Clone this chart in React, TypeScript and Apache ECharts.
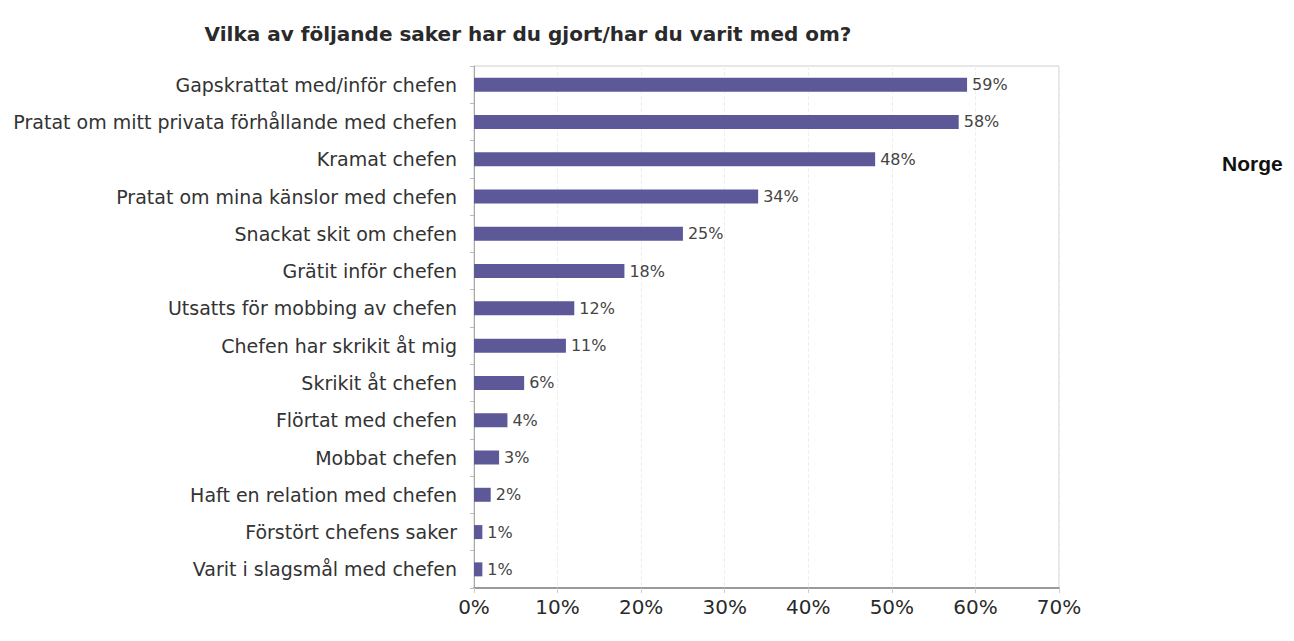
import React, { useEffect, useRef } from "react";
import * as echarts from "echarts";

const categories = [
  "Gapskrattat med/inför chefen",
  "Pratat om mitt privata förhållande med chefen",
  "Kramat chefen",
  "Pratat om mina känslor med chefen",
  "Snackat skit om chefen",
  "Grätit inför chefen",
  "Utsatts för mobbing av chefen",
  "Chefen har skrikit åt mig",
  "Skrikit åt chefen",
  "Flörtat med chefen",
  "Mobbat chefen",
  "Haft en relation med chefen",
  "Förstört chefens saker",
  "Varit i slagsmål med chefen",
];
const values = [59, 58, 48, 34, 25, 18, 12, 11, 6, 4, 3, 2, 1, 1];
const titleText = "Vilka av följande saker har du gjort/har du varit med om?";
const sideLabel = "Norge";

export default function App() {
  const ref = useRef<HTMLDivElement>(null);
  useEffect(() => {
    if (!ref.current) return;
    const chart = echarts.init(ref.current, undefined, { renderer: "svg" });
    chart.setOption({
      animation: false,
      backgroundColor: "#ffffff",
      title: {
        text: titleText,
        left: 523,
        top: 19,
        textAlign: "center",
        textStyle: {
          fontFamily: "DejaVu Sans",
          fontWeight: "bold",
          fontSize: 20,
          color: "#2a2a2a",
        },
      },
      graphic: [
        {
          type: "text",
          left: 1222,
          top: 153,
          style: {
            text: sideLabel,
            font: "bold 21px 'Liberation Sans', Arial, sans-serif",
            fill: "#111111",
          },
        },
      ],
      grid: {
        left: 474,
        top: 66,
        width: 585,
        height: 522,
        show: true,
        borderColor: "#cfcfcf",
        borderWidth: 1,
        containLabel: false,
      },
      xAxis: {
        type: "value",
        min: 0,
        max: 70,
        interval: 10,
        axisLine: { show: true, lineStyle: { color: "#9a9a9a", width: 2 } },
        axisTick: { show: true, length: 5, lineStyle: { color: "#cccccc" } },
        splitLine: { show: true, lineStyle: { color: "#efefef", type: "dashed" } },
        axisLabel: {
          formatter: "{value}%",
          margin: 9,
          fontFamily: "DejaVu Sans",
          fontSize: 20,
          color: "#2a2a2a",
        },
      },
      yAxis: {
        type: "category",
        data: categories,
        inverse: true,
        axisLine: { show: true, lineStyle: { color: "#a8a8a8", width: 1 } },
        axisTick: { show: true, length: 4, lineStyle: { color: "#bbbbbb" } },
        axisLabel: {
          margin: 17,
          fontFamily: "DejaVu Sans",
          fontSize: 19,
          color: "#333333",
        },
      },
      series: [
        {
          type: "bar",
          data: values,
          barWidth: 14,
          itemStyle: { color: "#5d5999" },
          label: {
            show: true,
            position: "right",
            distance: 5,
            formatter: "{c}%",
            fontFamily: "DejaVu Sans",
            fontSize: 16,
            color: "#444444",
          },
        },
      ],
    });
    return () => chart.dispose();
  }, []);
  return (
    <div
      ref={ref}
      style={{ position: "absolute", left: 0, top: 0, width: 1294, height: 641 }}
    />
  );
}
